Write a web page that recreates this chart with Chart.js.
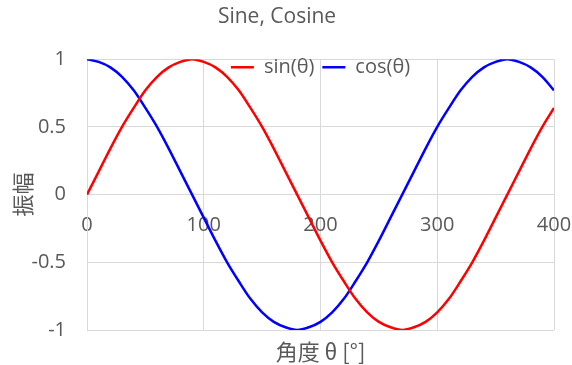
<!DOCTYPE html>
<html>
<head>
<meta charset="utf-8">
<script src="https://cdn.jsdelivr.net/npm/chart.js@4/dist/chart.umd.min.js"></script>
<style>
  html, body { margin: 0; padding: 0; background: #ffffff; }
  #wrap { width: 572px; height: 365px; }
</style>
</head>
<body>
<div id="wrap"><canvas id="c" width="572" height="365"></canvas></div>
<script>
// ---- data ----
const chartTitle = 'Sine, Cosine';
const xAxisTitle = '角度 θ [°]';
const yAxisTitle = '振幅';
const seriesNames = ['sin(θ)', 'cos(θ)'];
const angles = [0,10,20,30,40,50,60,70,80,90,100,110,120,130,140,150,160,170,180,190,200,
  210,220,230,240,250,260,270,280,290,300,310,320,330,340,350,360,370,380,390,400];
const sinValues = [0,0.17,0.34,0.5,0.64,0.77,0.87,0.94,0.98,1,0.98,0.94,0.87,0.77,0.64,0.5,0.34,0.17,0,
  -0.17,-0.34,-0.5,-0.64,-0.77,-0.87,-0.94,-0.98,-1,-0.98,-0.94,-0.87,-0.77,-0.64,-0.5,-0.34,-0.17,0,
  0.17,0.34,0.5,0.64];
const cosValues = [1,0.98,0.94,0.87,0.77,0.64,0.5,0.34,0.17,0,-0.17,-0.34,-0.5,-0.64,-0.77,-0.87,-0.94,-0.98,-1,
  -0.98,-0.94,-0.87,-0.77,-0.64,-0.5,-0.34,-0.17,0,0.17,0.34,0.5,0.64,0.77,0.87,0.94,0.98,1,
  0.98,0.94,0.87,0.77];
const xTickValues = [0, 100, 200, 300, 400];
const xTickLabels = ['0', '100', '200', '300', '400'];
const yTickValues = [-1, -0.5, 0, 0.5, 1];
const yTickLabels = ['-1', '-0.5', '0', '0.5', '1'];

// ---- styling ----
const TEXT = '#595959';
const GRID = '#d9d9d9';
const FAMILY = "'Open Sans', 'Noto Sans CJK JP', sans-serif";
const CJK_FAMILY = "'Noto Sans CJK JP', 'Open Sans', sans-serif";

const legendMover = {
  id: 'legendMover',
  beforeLayout(chart) {
    const lg = chart.legend;
    if (lg && !lg._patched) {
      const fit = lg.fit;
      lg.fit = function () { fit.call(this); this._fullH = this.height; this.height = 0; };
      lg._patched = true;
    }
  },
  afterLayout(chart) {
    const lg = chart.legend; const ca = chart.chartArea;
    if (!lg) return;
    lg.top = ca.top - 10;
    lg.height = lg._fullH;
    lg.bottom = lg.top + lg._fullH;
    lg.left = ca.left; lg.right = ca.right; lg.width = ca.right - ca.left;
  }
};

const toPoints = (ys) => angles.map((a, i) => ({ x: a, y: ys[i] }));

new Chart(document.getElementById('c'), {
  type: 'line',
  data: {
    datasets: [
      { label: seriesNames[0], data: toPoints(sinValues), borderColor: '#ff0000', backgroundColor: '#ff0000',
        borderWidth: 2.5, pointRadius: 0, cubicInterpolationMode: 'monotone', xAxisID: 'x', yAxisID: 'y' },
      { label: seriesNames[1], data: toPoints(cosValues), borderColor: '#0000ff', backgroundColor: '#0000ff',
        borderWidth: 2.5, pointRadius: 0, cubicInterpolationMode: 'monotone', xAxisID: 'x', yAxisID: 'y' }
    ]
  },
  options: {
    responsive: false,
    animation: false,
    devicePixelRatio: 1,
    layout: { padding: { left: 0, right: 18, top: 0, bottom: 0 } },
    plugins: {
      title: { display: true, text: chartTitle, color: TEXT,
        font: { family: FAMILY, size: 21, weight: 'normal' }, padding: { top: 4, bottom: 30 } },
      legend: { display: true, position: 'top', fullSize: false, align: 'center',
        labels: { usePointStyle: true, pointStyle: 'line', pointStyleWidth: 23, boxHeight: 20,
          color: TEXT, padding: 8, font: { family: FAMILY, size: 20 } } },
      tooltip: { enabled: false }
    },
    scales: {
      x: { type: 'linear', position: 'bottom', min: 0, max: 400,
        afterBuildTicks: (s) => { s.ticks = xTickValues.map(v => ({ value: v })); },
        afterFit: (s) => { s.height = 35; s.paddingLeft = 0; s.paddingRight = 0; },
        ticks: { display: false },
        grid: { color: GRID, lineWidth: 1, drawTicks: false },
        border: { display: false },
        title: { display: true, text: xAxisTitle, color: TEXT, font: { family: CJK_FAMILY, size: 22 }, padding: { top: 0, bottom: 0 } } },
      x2: { type: 'linear', axis: 'x', position: { y: 0 }, min: 0, max: 400,
        afterBuildTicks: (s) => { s.ticks = xTickValues.map(v => ({ value: v })); },
        afterFit: (s) => { s.paddingLeft = 0; s.paddingRight = 0; },
        ticks: { color: TEXT, font: { family: FAMILY, size: 20 }, padding: 19, maxRotation: 0,
          callback: (v) => xTickLabels[xTickValues.indexOf(v)] },
        grid: { display: false, drawTicks: false },
        border: { display: false } },
      y: { type: 'linear', position: 'left', min: -1, max: 1,
        afterBuildTicks: (s) => { s.ticks = yTickValues.map(v => ({ value: v })); },
        afterFit: (s) => { s.width = 87; },
        ticks: { color: TEXT, font: { family: FAMILY, size: 20 }, padding: 21,
          callback: (v) => yTickLabels[yTickValues.indexOf(v)] },
        grid: { color: GRID, lineWidth: 1, drawTicks: false },
        border: { display: true, color: GRID },
        title: { display: true, text: yAxisTitle, color: TEXT, font: { family: CJK_FAMILY, size: 22 }, padding: { top: 9, bottom: 0 } } }
    }
  },
  plugins: [legendMover]
});
</script>
</body>
</html>
